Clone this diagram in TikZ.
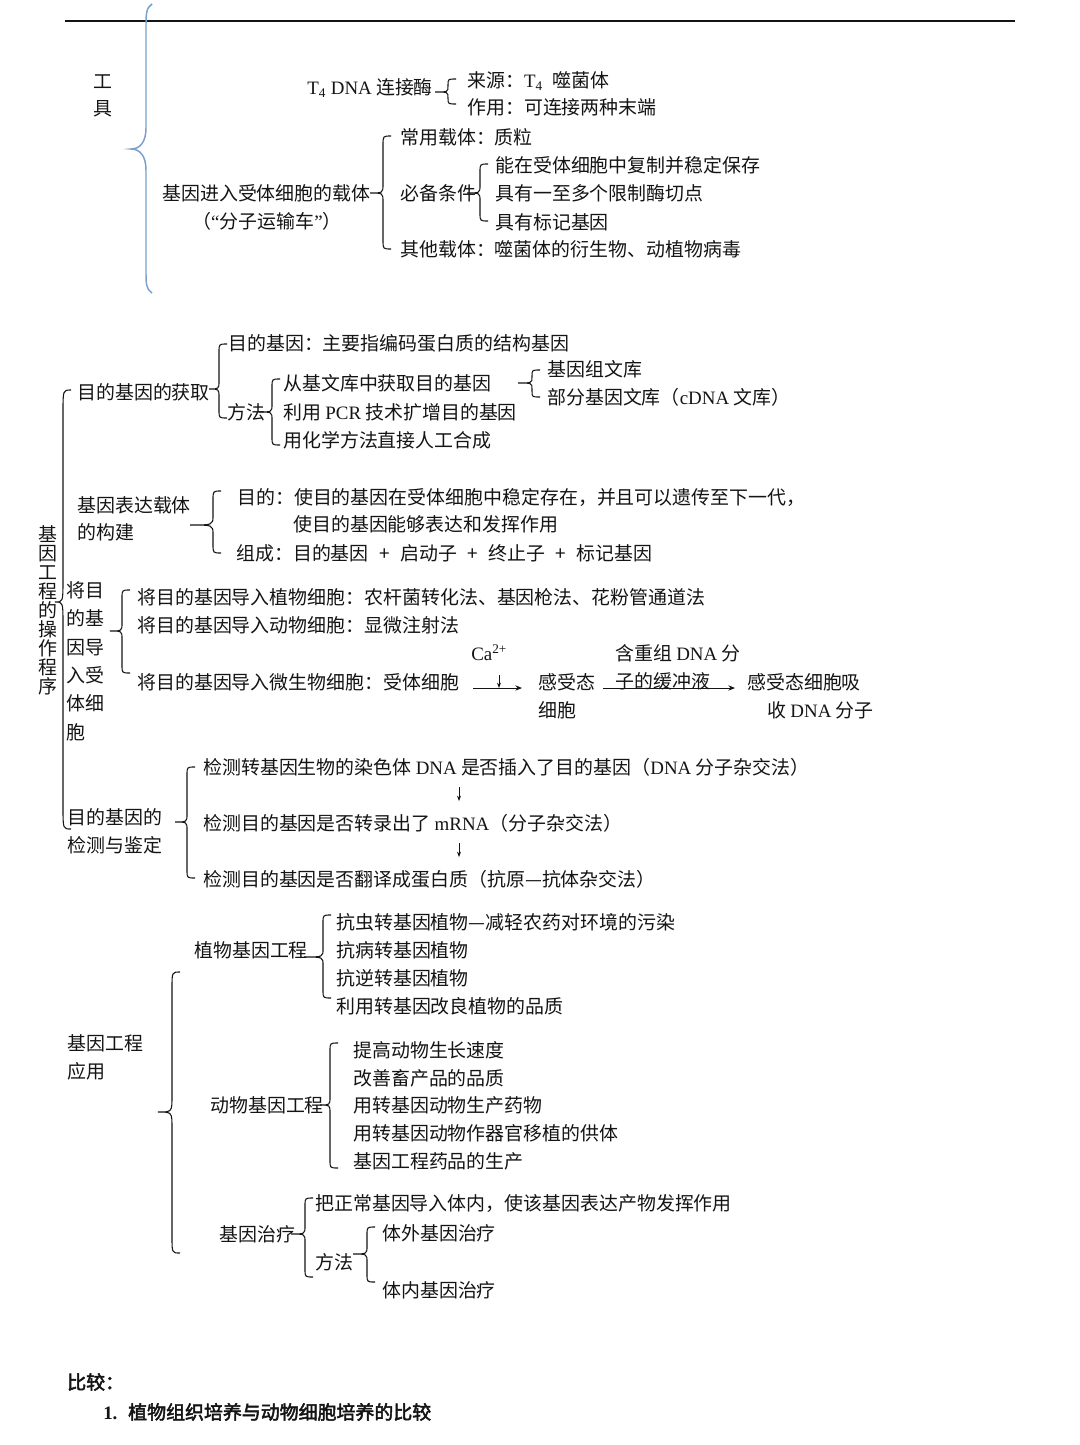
\documentclass[tikz,border=0pt]{standalone}
\usepackage{fontspec}
\setmainfont{Liberation Serif}
\newfontfamily\cjk{Noto Sans CJK SC}
\newfontfamily\cjkb{Noto Sans CJK SC}[FakeBold=2.5]
\usetikzlibrary{arrows.meta}
\newcommand\lat[1]{{\rmfamily #1}}
\newcommand\pls{\hspace{0.55em}+\hspace{0.55em}}
\definecolor{txtc}{RGB}{20,20,20}
\definecolor{bluebr}{RGB}{122,160,204}
% #1 options, #2 x of vertical, #3 top y, #4 bottom y, #5 tip x, #6 tip y, #7 radius
\newcommand\mybrace[7][]{%
  \pgfmathsetmacro\brA{min(#7,(#6-#3)/2)}%
  \pgfmathsetmacro\brB{min(#7,(#4-#6)/2)}%
  \draw[brc,#1] ({#2+8},#3) .. controls (#2,#3) .. (#2,{#3+\brA})
    -- (#2,{#6-\brA}) .. controls (#2,#6) .. (#5,#6)
    .. controls (#2,#6) .. (#2,{#6+\brB})
    -- (#2,{#4-\brB}) .. controls (#2,#4) .. ({#2+8},#4);}
\begin{document}
\begin{tikzpicture}[x=0.75pt,y=-0.75pt,
  t/.style={anchor=west,inner sep=0pt,text height=12.5pt,text depth=1.7pt,
    font=\cjk\fontsize{14.2}{17}\selectfont,text=txtc},
  tc/.style={t,anchor=center},
  tb/.style={t,font=\cjkb\fontsize{14.2}{17}\selectfont},
  brc/.style={line width=0.8pt,draw=txtc},
  arr/.style={line width=0.7pt,draw=txtc,-{Stealth[length=5pt,width=4pt]}}]
\useasboundingbox (0,0) rectangle (1080,1445);
\fill[white] (0,0) rectangle (1080,1445);

% ---------- top: tools ----------
\coordinate (r1) at (65,21); \coordinate (r2) at (1015,21);
\draw[line width=1pt,draw=txtc] (r1) -- (r2);
\draw[line width=1.1pt,draw=bluebr] (152,4) .. controls (146,8) and (146,14) .. (146,28)
  -- (146,128) .. controls (146,142) and (140,149) .. (131,149)
  .. controls (140,149) and (146,156) .. (146,170)
  -- (146,270) .. controls (146,284) and (146,289) .. (152,293);
\node[tc] (gong) at (103,81) {工};
\node[tc] (ju) at (103,108) {具};

\node[t] (t4) at (307,87) {\lat{T\textsubscript{4} DNA} 连接酶};
\node[t] (ly) at (467,80) {来源：\lat{T\textsubscript{4}}\hspace{0.3em} 噬菌体};
\node[t] (zy) at (467,107) {作用：可连接两种末端};
\mybrace{448}{79}{104}{435}{92}{6}

\node[t] (vec1) at (162,193) {基因进入受体细胞的载体};
\node[t] (vec2) at (192,221) {（\lat{“}分子运输车\lat{”}）};
\node[t] (cy) at (400,137) {常用载体：质粒};
\node[t] (bb) at (400,193) {必备条件};
\node[t] (n1) at (495,165) {能在受体细胞中复制并稳定保存};
\node[t] (n2) at (495,193) {具有一至多个限制酶切点};
\node[t] (n3) at (495,222) {具有标记基因};
\node[t] (qt) at (400,249) {其他载体：噬菌体的衍生物、动植物病毒};
\mybrace{383}{136}{249}{370}{193}{9}
\mybrace{480}{164}{221}{467}{193}{8}

% ---------- operation procedure ----------
\foreach \c [count=\i] in {基,因,工,程,的,操,作,程,序}
  \node[tc] (v\i) at (48,{515+19*\i}) {\c};
\mybrace{63}{390}{829}{55}{602}{22}

\node[t] (hq) at (77,392) {目的基因的获取};
\node[t] (mdj) at (228,343) {目的基因：主要指编码蛋白质的结构基因};
\node[t] (ff1) at (227,412) {方法};
\node[t] (m1) at (283,383) {从基文库中获取目的基因};
\node[t] (m2) at (283,412) {利用 \lat{PCR} 技术扩增目的基因};
\node[t] (m3) at (283,440) {用化学方法直接人工合成};
\node[t] (lib1) at (547,369) {基因组文库};
\node[t] (lib2) at (547,397) {部分基因文库（\lat{cDNA} 文库）};
\mybrace{219}{344}{418}{209}{389}{8}
\mybrace{272}{379}{445}{259}{412}{8}
\mybrace{532}{370}{397}{518}{383}{6}

\node[t] (bd1) at (77,505) {基因表达载体};
\node[t] (bd2) at (77,532) {的构建};
\node[t] (md1) at (237,497) {目的：使目的基因在受体细胞中稳定存在，并且可以遗传至下一代，};
\node[t] (md2) at (293,524) {使目的基因能够表达和发挥作用};
\node[t] (zc) at (236,553) {组成：目的基因\pls 启动子\pls 终止子\pls 标记基因};
\mybrace{213}{491}{553}{190}{525}{9}

\node[t] (dr1) at (66,590) {将目};
\node[t] (dr2) at (66,618) {的基};
\node[t] (dr3) at (66,647) {因导};
\node[t] (dr4) at (66,675) {入受};
\node[t] (dr5) at (66,703) {体细};
\node[t] (dr6) at (66,732) {胞};
\node[t] (p1) at (137,597) {将目的基因导入植物细胞：农杆菌转化法、基因枪法、花粉管通道法};
\node[t] (p2) at (137,625) {将目的基因导入动物细胞：显微注射法};
\node[t] (p3) at (137,682) {将目的基因导入微生物细胞：受体细胞};
\mybrace{122}{590}{673}{110}{631}{8}

\node[t] (ca) at (471,653) {\lat{Ca\textsuperscript{2+}}};
\node[t] (gs1) at (538,682) {感受态};
\node[t] (gs2) at (538,710) {细胞};
\node[t] (hc1) at (615,653) {含重组 \lat{DNA} 分};
\node[t] (hc2) at (615,681) {子的缓冲液};
\node[t] (xs1) at (747,682) {感受态细胞吸};
\node[t] (xs2) at (767,710) {收 \lat{DNA} 分子};
\coordinate (a1s) at (473,688); \coordinate (a1e) at (522,688);
\coordinate (cas) at (499,675); \coordinate (cae) at (499,688);
\coordinate (a2s) at (603,688); \coordinate (a2e) at (735,688);
\draw[arr] (a1s) -- (a1e);
\draw[arr,-{Stealth[length=4pt,width=3pt]}] (cas) -- (cae);
\draw[arr] (a2s) -- (a2e);

\node[t] (jc1) at (67,817) {目的基因的};
\node[t] (jc2) at (67,845) {检测与鉴定};
\node[t] (d1) at (203,767) {检测转基因生物的染色体 \lat{DNA} 是否插入了目的基因（\lat{DNA} 分子杂交法）};
\node[t] (d2) at (203,823) {检测目的基因是否转录出了 \lat{mRNA}（分子杂交法）};
\node[t] (d3) at (203,879) {检测目的基因是否翻译成蛋白质（抗原—抗体杂交法）};
\mybrace{187}{767}{878}{175}{822}{8}
\coordinate (k1s) at (459,787); \coordinate (k1e) at (459,801);
\coordinate (k2s) at (459,843); \coordinate (k2e) at (459,857);
\draw[arr,line width=0.6pt,-{Stealth[length=4pt,width=3pt]}] (k1s) -- (k1e);
\draw[arr,line width=0.6pt,-{Stealth[length=4pt,width=3pt]}] (k2s) -- (k2e);

% ---------- application ----------
\node[t] (yy1) at (67,1043) {基因工程};
\node[t] (yy2) at (67,1071) {应用};
\mybrace{172}{972}{1253}{158}{1112}{16}

\node[t] (zw) at (194,950) {植物基因工程};
\node[t] (z1) at (336,922) {抗虫转基因植物—减轻农药对环境的污染};
\node[t] (z2) at (336,950) {抗病转基因植物};
\node[t] (z3) at (336,978) {抗逆转基因植物};
\node[t] (z4) at (336,1006) {利用转基因改良植物的品质};
\mybrace{323}{915}{998}{304}{957}{8}

\node[t] (dw) at (210,1105) {动物基因工程};
\node[t] (an1) at (353,1050) {提高动物生长速度};
\node[t] (an2) at (353,1078) {改善畜产品的品质};
\node[t] (an3) at (353,1105) {用转基因动物生产药物};
\node[t] (an4) at (353,1133) {用转基因动物作器官移植的供体};
\node[t] (an5) at (353,1161) {基因工程药品的生产};
\mybrace{330}{1043}{1168}{320}{1105}{8}

\node[t] (zl) at (219,1234) {基因治疗};
\node[t] (g1) at (315,1203) {把正常基因导入体内，使该基因表达产物发挥作用};
\node[t] (ff2) at (315,1262) {方法};
\node[t] (g2) at (382,1233) {体外基因治疗};
\node[t] (g3) at (382,1290) {体内基因治疗};
\mybrace{305}{1198}{1277}{291}{1234}{8}
\mybrace{367}{1227}{1282}{353}{1254}{8}

% ---------- comparison ----------
\node[tb] (bj) at (67,1382) {比较：};
\node[t,font=\rmfamily\bfseries\fontsize{14.2}{17}\selectfont] (one) at (103,1412) {1.};
\node[tb] (bjt) at (128,1412) {植物组织培养与动物细胞培养的比较};
\end{tikzpicture}
\end{document}
